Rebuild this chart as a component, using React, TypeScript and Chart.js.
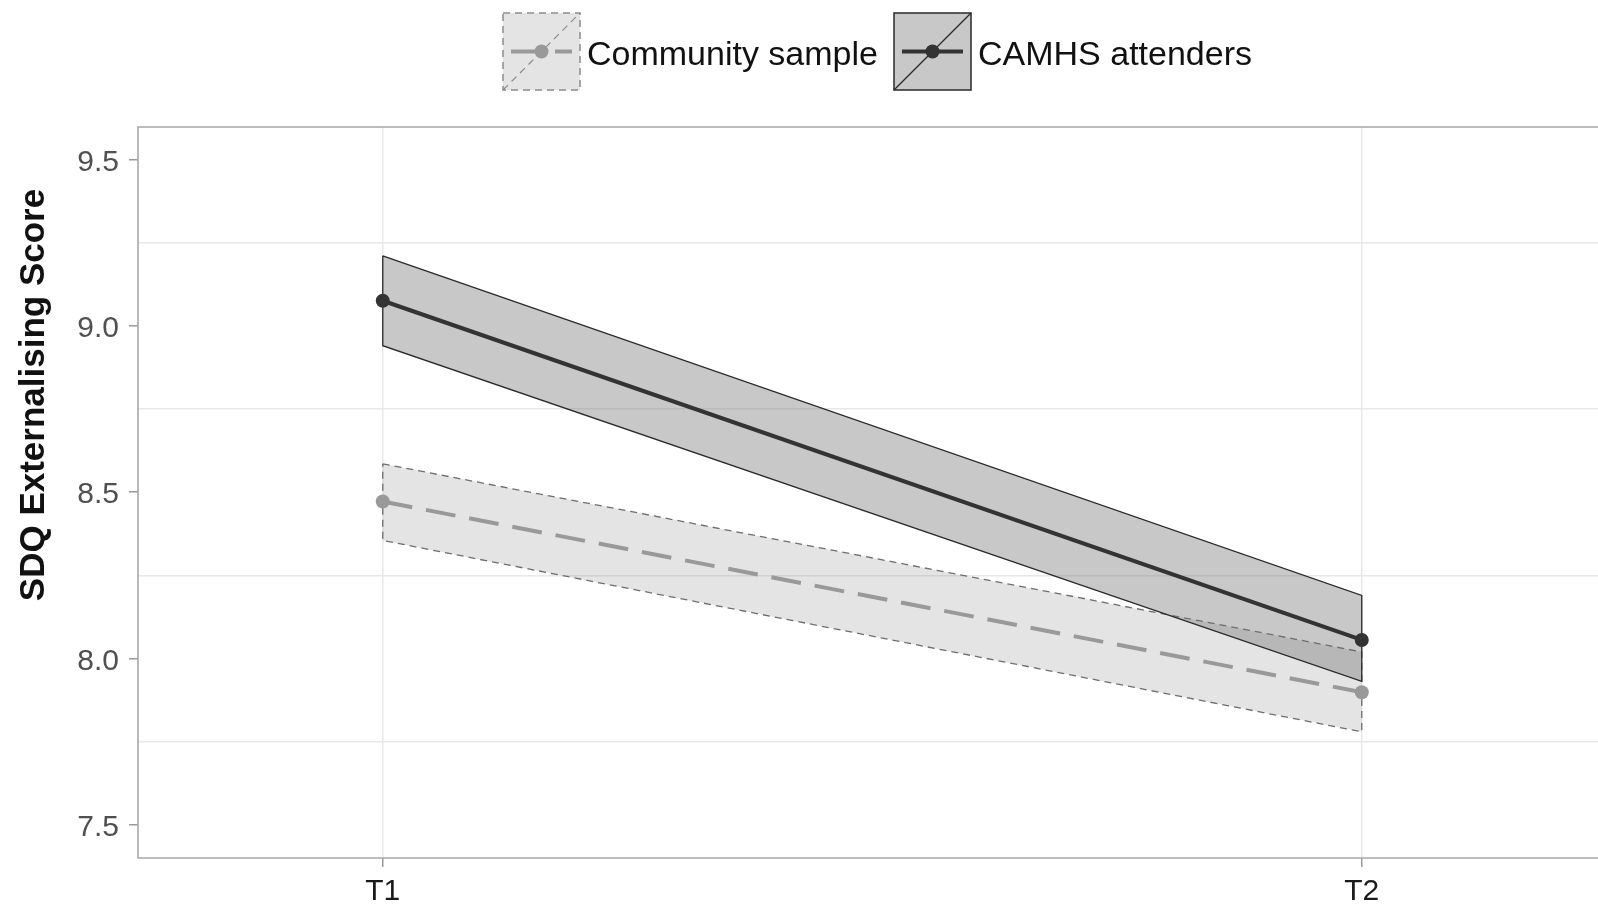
import React, { useEffect, useRef } from "react";
import { Chart, registerables } from "chart.js";

Chart.register(...registerables);

// ---- data ----
const TIME_LABELS = ["T1", "T2"];
const TIME_POS = [0, 1];
const COMMUNITY_MEAN = [8.472, 7.899];
const COMMUNITY_UPPER = [8.585, 8.02];
const COMMUNITY_LOWER = [8.355, 7.78];
const CAMHS_MEAN = [9.075, 8.056];
const CAMHS_UPPER = [9.21, 8.19];
const CAMHS_LOWER = [8.94, 7.932];
const Y_LABEL_TICKS = [7.5, 8.0, 8.5, 9.0, 9.5];
const Y_GRID_TICKS = [7.75, 8.25, 8.75, 9.25];
const SERIES_NAMES = ["Community sample", "CAMHS attenders"];
const Y_TITLE = "SDQ Externalising Score";

const FONT = "'Liberation Sans', Arial, Helvetica, sans-serif";
const COMM_FILL = "rgba(120,120,120,0.2)";
const CAMHS_FILL = "rgba(110,110,110,0.38)";
const COMM_LINE = "#999999";
const CAMHS_LINE = "#333333";
const COMM_EDGE = "#6e6e6e";
const CAMHS_EDGE = "#2a2a2a";
const MEAN_DASH = [30, 14];
const EDGE_DASH = [7, 5];

const meanPoints = (vals: number[]) => TIME_POS.map((x, i) => ({ x, y: vals[i] }));
const ribbonPoints = (up: number[], lo: number[]) => [
  ...TIME_POS.map((x, i) => ({ x, y: up[i] })),
  ...TIME_POS.map((x, i) => ({ x, y: lo[i] })).reverse(),
  { x: TIME_POS[0], y: up[0] },
];

function drawKey(
  ctx: CanvasRenderingContext2D,
  x: number,
  y: number,
  s: number,
  fill: string,
  edge: string,
  edgeDash: number[],
  line: string,
  lineDash: number[]
) {
  ctx.save();
  ctx.fillStyle = "#ffffff";
  ctx.fillRect(x, y, s, s);
  ctx.fillStyle = fill;
  ctx.fillRect(x, y, s, s);
  ctx.strokeStyle = edge;
  ctx.lineWidth = 1.5;
  ctx.setLineDash(edgeDash);
  ctx.strokeRect(x, y, s, s);
  ctx.beginPath();
  ctx.moveTo(x, y + s);
  ctx.lineTo(x + s, y);
  ctx.lineWidth = 1.2;
  ctx.stroke();
  ctx.setLineDash(lineDash);
  ctx.strokeStyle = line;
  ctx.lineWidth = 4;
  ctx.beginPath();
  ctx.moveTo(x + 8, y + s / 2);
  ctx.lineTo(x + s - 8, y + s / 2);
  ctx.stroke();
  ctx.setLineDash([]);
  ctx.fillStyle = line;
  ctx.beginPath();
  ctx.arc(x + s / 2, y + s / 2, 7, 0, Math.PI * 2);
  ctx.fill();
  ctx.restore();
}

const decorPlugin = {
  id: "decor",
  beforeDatasetsDraw(chart: any) {
    const { ctx, chartArea } = chart;
    ctx.save();
    ctx.strokeStyle = "#a8a8a8";
    ctx.lineWidth = 1.6;
    ctx.beginPath();
    ctx.moveTo(chartArea.right + 2, chartArea.top);
    ctx.lineTo(chartArea.left, chartArea.top);
    ctx.lineTo(chartArea.left, chartArea.bottom);
    ctx.lineTo(chartArea.right + 2, chartArea.bottom);
    ctx.stroke();
    ctx.restore();
  },
  afterDraw(chart: any) {
    const { ctx } = chart;
    ctx.save();
    // y axis title
    ctx.translate(34, 395);
    ctx.rotate(-Math.PI / 2);
    ctx.fillStyle = "#111111";
    ctx.font = `bold 35px ${FONT}`;
    ctx.textAlign = "center";
    ctx.textBaseline = "middle";
    ctx.fillText(Y_TITLE, 0, 0);
    ctx.restore();

    // legend
    const keySize = 77;
    const keyY = 13;
    drawKey(ctx, 503, keyY, keySize, COMM_FILL, "#8a8a8a", EDGE_DASH, COMM_LINE, MEAN_DASH);
    drawKey(ctx, 894, keyY, keySize, CAMHS_FILL, CAMHS_EDGE, [], CAMHS_LINE, []);
    ctx.save();
    ctx.fillStyle = "#111111";
    ctx.font = `34px ${FONT}`;
    ctx.textAlign = "left";
    ctx.textBaseline = "middle";
    ctx.fillText(SERIES_NAMES[0], 587, keyY + keySize / 2 + 4);
    ctx.fillText(SERIES_NAMES[1], 978, keyY + keySize / 2 + 4);
    ctx.restore();
  },
};

export default function App() {
  const ref = useRef<HTMLCanvasElement | null>(null);
  useEffect(() => {
    if (!ref.current) return;
    const chart = new Chart(ref.current, {
      type: "line",
      data: {
        datasets: [
          {
            label: SERIES_NAMES[1],
            data: meanPoints(CAMHS_MEAN),
            borderColor: CAMHS_LINE,
            backgroundColor: CAMHS_LINE,
            borderWidth: 4,
            pointRadius: 7,
            pointBorderWidth: 0,
            pointBackgroundColor: CAMHS_LINE,
            fill: false,
          },
          {
            label: SERIES_NAMES[0],
            data: meanPoints(COMMUNITY_MEAN),
            borderColor: COMM_LINE,
            backgroundColor: COMM_LINE,
            borderWidth: 4,
            borderDash: MEAN_DASH,
            pointRadius: 7,
            pointBorderWidth: 0,
            pointBackgroundColor: COMM_LINE,
            fill: false,
          },
          {
            label: SERIES_NAMES[1] + " CI",
            data: ribbonPoints(CAMHS_UPPER, CAMHS_LOWER),
            borderColor: CAMHS_EDGE,
            backgroundColor: CAMHS_FILL,
            borderWidth: 1.3,
            pointRadius: 0,
            fill: "shape",
          },
          {
            label: SERIES_NAMES[0] + " CI",
            data: ribbonPoints(COMMUNITY_UPPER, COMMUNITY_LOWER),
            borderColor: COMM_EDGE,
            backgroundColor: COMM_FILL,
            borderWidth: 1.3,
            borderDash: EDGE_DASH,
            pointRadius: 0,
            fill: "shape",
          },
        ],
      },
      options: {
        animation: false,
        responsive: false,
        maintainAspectRatio: false,
        layout: { autoPadding: false, padding: { top: 127, left: 0, right: 0, bottom: 0 } },
        plugins: { legend: { display: false }, tooltip: { enabled: false } },
        scales: {
          x: {
            type: "linear",
            min: -0.25,
            max: 1.2413,
            afterBuildTicks: (s: any) => {
              s.ticks = TIME_POS.map((v) => ({ value: v }));
            },
            afterFit: (s: any) => {
              s.height = 48;
            },
            ticks: {
              callback: (v: any) => {
                const i = TIME_POS.indexOf(Number(v));
                return i >= 0 ? TIME_LABELS[i] : "";
              },
              color: "#1a1a1a",
              font: { family: FONT, size: 30 },
              padding: 7,
              maxRotation: 0,
              autoSkip: false,
            },
            grid: {
              color: "#e8e8e8",
              lineWidth: 1.5,
              tickLength: 9,
              tickColor: "#9a9a9a",
              tickWidth: 1.5,
            },
            border: { display: false },
          },
          y: {
            type: "linear",
            min: 7.401,
            max: 9.597,
            afterBuildTicks: (s: any) => {
              s.ticks = [...Y_LABEL_TICKS, ...Y_GRID_TICKS]
                .sort((a, b) => a - b)
                .map((v) => ({ value: v }));
            },
            afterFit: (s: any) => {
              s.width = 138;
            },
            ticks: {
              callback: (v: any) => (Y_LABEL_TICKS.includes(Number(v)) ? Number(v).toFixed(1) : ""),
              color: "#505050",
              font: { family: FONT, size: 30 },
              padding: 10,
              labelOffset: 3,
              autoSkip: false,
            },
            grid: {
              color: (c: any) =>
                c.tick && Y_LABEL_TICKS.includes(c.tick.value) ? "rgba(0,0,0,0)" : "#e8e8e8",
              tickColor: (c: any) =>
                c.tick && Y_LABEL_TICKS.includes(c.tick.value) ? "#9a9a9a" : "rgba(0,0,0,0)",
              lineWidth: 1.5,
              tickLength: 9,
              tickWidth: 1.5,
            },
            border: { display: false },
          },
        },
      },
      plugins: [decorPlugin],
    } as any);
    return () => chart.destroy();
  }, []);

  return (
    <div style={{ position: "absolute", left: 0, top: 0, width: 1598, height: 906, background: "#ffffff" }}>
      <canvas ref={ref} width={1598} height={906} style={{ display: "block", width: 1598, height: 906 }} />
    </div>
  );
}
